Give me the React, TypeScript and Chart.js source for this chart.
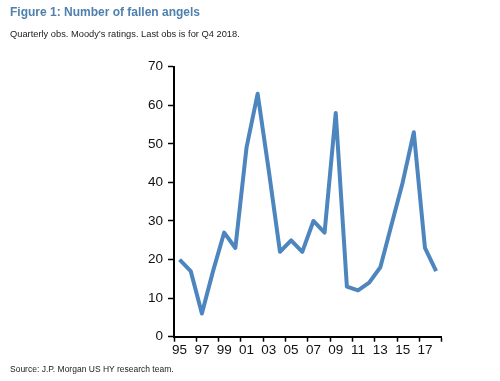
import React, { useEffect, useRef } from "react";
import { Chart, registerables } from "chart.js";

Chart.register(...registerables);

const years: string[] = [
  "95", "96", "97", "98", "99", "00", "01", "02", "03", "04", "05", "06",
  "07", "08", "09", "10", "11", "12", "13", "14", "15", "16", "17", "18",
];
const fallenAngels: number[] = [
  20, 17, 6, 17, 27, 23, 49, 63, 43, 22, 25, 22,
  30, 27, 58, 13, 12, 14, 18, 29, 40, 53, 23, 17,
];
const yMin = 0;
const yMax = 70;
const yStep = 10;

const titleText = "Figure 1: Number of fallen angels";
const subtitleText = "Quarterly obs. Moody\u2019s ratings. Last obs is for Q4 2018.";
const sourceText = "Source: J.P. Morgan US HY research team.";

export default function App() {
  const ref = useRef<HTMLCanvasElement | null>(null);

  useEffect(() => {
    if (!ref.current) return;
    const chart = new Chart(ref.current, {
      type: "line",
      data: {
        labels: years,
        datasets: [
          {
            data: fallenAngels,
            borderColor: "#4d86bf",
            borderWidth: 4,
            pointRadius: 0,
            tension: 0,
            borderJoinStyle: "round",
            borderCapStyle: "butt",
            fill: false,
          },
        ],
      },
      options: {
        animation: false,
        responsive: false,
        maintainAspectRatio: false,
        layout: { padding: { left: 134, right: 58.3, top: 66.7, bottom: 4.3 } },
        plugins: { legend: { display: false }, tooltip: { enabled: false }, title: { display: false } },
        scales: {
          x: {
            type: "category",
            offset: true,
            afterFit: (s: any) => { s.height = 40; },
            grid: {
              offset: true,
              drawOnChartArea: false,
              drawTicks: true,
              tickLength: 5,
              tickWidth: 1.5,
              tickColor: (ctx: any) =>
                ctx.index === undefined || ctx.index % 2 === 0 ? "#000" : "rgba(0,0,0,0)",
            },
            border: { display: true, color: "#000", width: 2 },
            ticks: {
              autoSkip: false,
              maxRotation: 0,
              minRotation: 0,
              padding: 0,
              color: "#111",
              font: { family: "'Liberation Sans', Arial, sans-serif", size: 13.5 },
              callback: (_v: any, i: number) => (i % 2 === 0 ? years[i] : ""),
            },
          },
          y: {
            min: yMin,
            max: yMax,
            afterFit: (s: any) => { s.width = 40; },
            grid: {
              drawOnChartArea: false,
              drawTicks: true,
              tickLength: 6,
              tickWidth: 1.5,
              tickColor: "#000",
            },
            border: { display: true, color: "#000", width: 2 },
            ticks: {
              stepSize: yStep,
              padding: 5,
              color: "#111",
              font: { family: "'Liberation Sans', Arial, sans-serif", size: 13.5 },
            },
          },
        },
      },
    });
    return () => chart.destroy();
  }, []);

  const textBase: React.CSSProperties = {
    position: "absolute",
    left: 10,
    fontFamily: "'Liberation Sans', Arial, sans-serif",
    whiteSpace: "nowrap",
    lineHeight: 1,
  };

  return (
    <div style={{ position: "fixed", left: 0, top: 0, width: 500, height: 381, background: "#fff", overflow: "hidden" }}>
      <canvas ref={ref} width={500} height={381} style={{ position: "absolute", left: 0, top: 0 }} />
      <div style={{ ...textBase, top: 5.5, fontSize: 12, fontWeight: "bold", color: "#4f80ae" }}>{titleText}</div>
      <div style={{ ...textBase, top: 30, fontSize: 9.3, color: "#222" }}>{subtitleText}</div>
      <div style={{ ...textBase, top: 364.5, fontSize: 8.5, color: "#222" }}>{sourceText}</div>
    </div>
  );
}
